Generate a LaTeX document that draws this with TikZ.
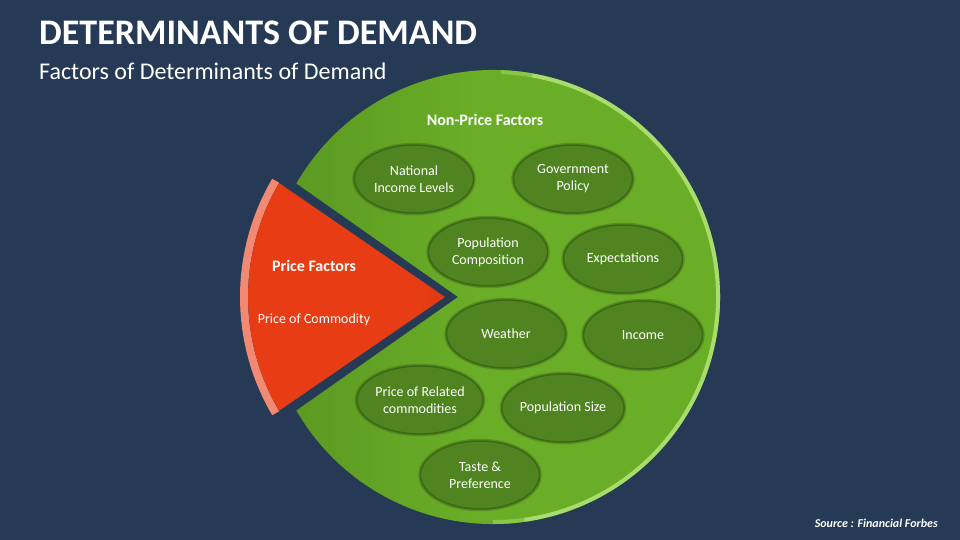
\documentclass[tikz,border=0pt]{standalone}
\usepackage{fontspec}
\setmainfont{Carlito}
\usetikzlibrary{shapes.geometric}
\definecolor{bgnavy}{HTML}{263A55}
\definecolor{grmain}{HTML}{6AAE27}
\definecolor{grdark}{HTML}{528C1F}
\definecolor{grrim}{HTML}{A8DC6C}
\definecolor{ellfill}{HTML}{4F8420}
\definecolor{ellline}{HTML}{3D6817}
\definecolor{ellglow}{HTML}{2F5210}
\definecolor{orng}{HTML}{E83D14}
\definecolor{orngdark}{HTML}{B5301A}
\definecolor{salmon}{HTML}{F28A73}
\pgfdeclarehorizontalshading{greenshade}{100bp}{color(0bp)=(grdark); color(25bp)=(grdark!60!grmain); color(45bp)=(grmain); color(100bp)=(grmain)}
\pgfdeclarehorizontalshading{orangeshade}{100bp}{color(0bp)=(orng); color(68bp)=(orng); color(100bp)=(orngdark)}
\tikzset{
  ellbox/.style={ellipse, minimum width=119pt, minimum height=68pt, inner sep=0pt,
    fill=ellfill, draw=ellline, line width=1.5pt,
    preaction={draw=ellglow, line width=4.5pt, opacity=0.35},
    text=white, align=center, font=\fontsize{14}{17}\selectfont},
  plaintext/.style={text=white, inner sep=0pt}
}
\begin{document}
\begin{tikzpicture}[x=1pt,y=-1pt]
\fill[bgnavy] (0,0) rectangle (960,540);
\useasboundingbox (0,0) rectangle (960,540);
% title
\node[plaintext, anchor=base west, font=\fontsize{36}{42}\selectfont\bfseries] (title) at (39,45) {DETERMINANTS OF DEMAND};
\node[plaintext, anchor=base west, font=\fontsize{24}{29}\selectfont] (subtitle) at (39,80) {Factors of Determinants of Demand};
% green disc with notch
\shade[shading=greenshade] (458,297) -- (296.4,183.5) arc[start angle=-150, end angle=150, radius=227] -- cycle;
\draw[grrim!50!grmain, line width=4pt] (493,297) ++(-88:225) arc[start angle=-88, end angle=-80, radius=225];
\draw[grrim!50!grmain, line width=4pt] (493,297) ++(82:225) arc[start angle=82, end angle=90, radius=225];
\draw[grrim, line width=4pt] (493,297) ++(-80:225) arc[start angle=-80, end angle=82, radius=225];
% orange sector
\draw[salmon, line width=8pt] (473,297) ++(210.5:229) arc[start angle=210.5, end angle=149.5, radius=229];
\shade[shading=orangeshade] (445,297) -- (279,183) arc[start angle=210.4, end angle=149.6, radius=225] -- cycle;
% labels
\node[plaintext, font=\fontsize{16}{19}\selectfont\bfseries] (npf) at (485,120) {Non-Price Factors};
\node[plaintext, font=\fontsize{16}{19}\selectfont\bfseries] (pf) at (314,266) {Price Factors};
\node[plaintext, font=\fontsize{14}{17}\selectfont] (poc) at (314,320) {Price of Commodity};
% ellipses
\node[ellbox] (nil) at (414,179) {National\\Income Levels};
\node[ellbox] (gp) at (573,179) {Government\\Policy};
\node[ellbox] (pc) at (488,252) {Population\\Composition};
\node[ellbox] (exp) at (623,259) {Expectations};
\node[ellbox] (wea) at (506,334) {Weather};
\node[ellbox] (inc) at (643,335) {Income};
\node[ellbox] (prc) at (420,400) {Price of Related\\commodities};
\node[ellbox] (ps) at (563,408) {Population Size};
\node[ellbox] (tp) at (480,475) {Taste \&\\Preference};
% source
\node[plaintext, anchor=base east, font=\fontsize{12}{14}\selectfont\bfseries\itshape] (src) at (938,527) {Source : Financial Forbes};
\end{tikzpicture}
\end{document}
